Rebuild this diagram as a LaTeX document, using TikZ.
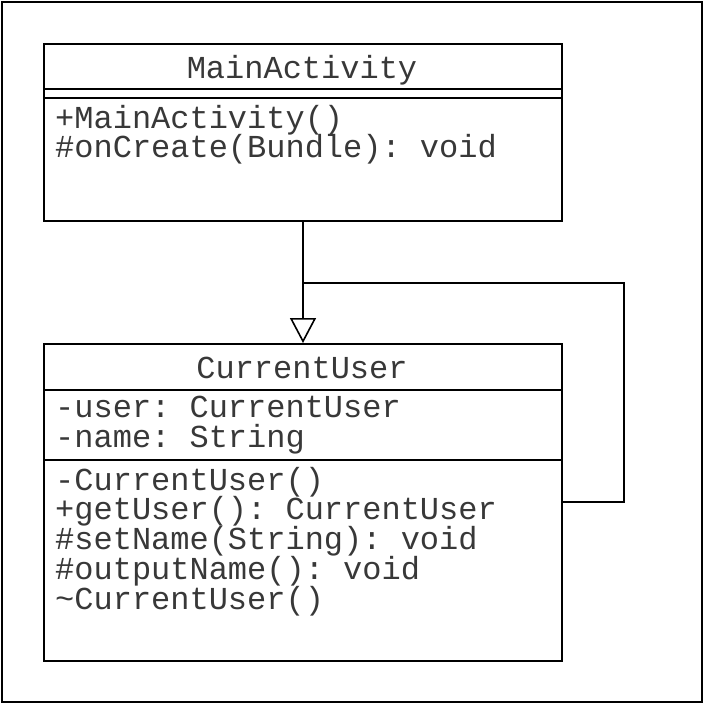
\documentclass[tikz,border=0pt]{standalone}
\usepackage{fontspec}
\setmonofont{Liberation Mono}
\usetikzlibrary{arrows.meta}
\begin{document}
\begin{tikzpicture}[x=1pt,y=-1pt,
  umlline/.style={line width=1.6pt, draw=black},
  umltext/.style={font=\ttfamily\fontsize{32}{32}\selectfont, text=black!78, inner sep=0pt},
  member/.style={umltext, anchor=base west},
  title/.style={umltext, anchor=base}]
\useasboundingbox (0,0) rectangle (704,704);
\draw[umlline] (2,2) rectangle (702,702);
% MainActivity
\node[draw, line width=1.6pt, minimum width=518pt, minimum height=177pt, anchor=north west, inner sep=0pt] (main) at (43,43) {};
\draw[umlline] (43,89) -- (561,89);
\draw[umlline] (43,98) -- (561,98);
\node[title] (mainT) at (302,78) {MainActivity};
\node[member] (m1) at (55,128) {+MainActivity()};
\node[member] (m2) at (55,157) {\#onCreate(Bundle): void};
% CurrentUser
\node[draw, line width=1.6pt, minimum width=518pt, minimum height=317pt, anchor=north west, inner sep=0pt] (cu) at (43,343) {};
\draw[umlline] (43,390) -- (561,390);
\draw[umlline] (43,460) -- (561,460);
\node[title] (cuT) at (302,378) {CurrentUser};
\node[member] (a1) at (55,417) {-user: CurrentUser};
\node[member] (a2) at (55,447) {-name: String};
\node[member] (o1) at (55,490) {-CurrentUser()};
\node[member] (o2) at (55,519) {+getUser(): CurrentUser};
\node[member] (o3) at (55,549) {\#setName(String): void};
\node[member] (o4) at (55,579) {\#outputName(): void};
\node[member] (o5) at (55,609) {\textasciitilde CurrentUser()};
% connectors
\coordinate (j) at (303,283);
\coordinate (r1) at (624,502);
\coordinate (r2) at (624,283);
\draw[umlline, -{Triangle[open, length=25pt, width=26pt, line width=1.6pt]}] (main.south -| j) -- (cu.north -| j);
\draw[umlline] (cu.east |- r1) -- (r1) -- (r2) -- (j);
\end{tikzpicture}
\end{document}
